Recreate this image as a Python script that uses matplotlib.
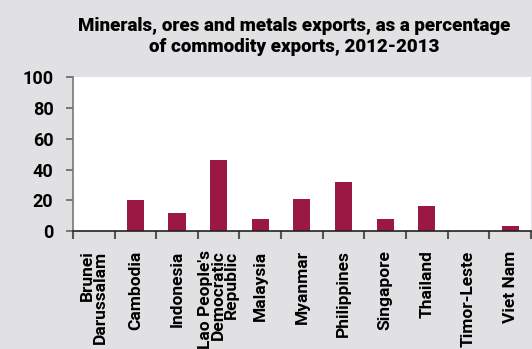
import numpy as np
import matplotlib
matplotlib.use("Agg")
import matplotlib.pyplot as plt
from matplotlib.ticker import FixedLocator

plt.rcParams['font.family'] = ['Roboto', 'Liberation Sans', 'DejaVu Sans']

"""
Data
"""
countries = ["Brunei\nDarussalam", "Cambodia", "Indonesia",
             "Lao People's\nDemocratic\nRepublic", "Malaysia", "Myanmar",
             "Philippines", "Singapore", "Thailand", "Timor-Leste", "Viet Nam"]
share = [0, 20, 12, 46, 8, 21, 32, 8, 16, 0, 3]
yticks = [0, 20, 40, 60, 80, 100]

"""
Plot
"""
bg = "#e1e1e3"
fig = plt.figure(figsize=(5.32, 3.49), dpi=100, facecolor=bg)
ax = fig.add_axes([0.137, 0.338, 0.861, 0.440])

x = np.arange(len(countries))
ax.bar(x, share, width=0.41, color="#9b1844")

ax.set_xlim(-0.5, len(countries) - 0.5)
ax.set_ylim(0, 100)
ax.set_yticks(yticks)
ax.tick_params(axis="y", length=5, width=1.2, color="#666666", labelsize=13, pad=9)
for t in ax.get_yticklabels():
    t.set_fontweight("bold")

ax.set_xticks(x)
ax.set_xticklabels(countries, rotation=90, va="top", ha="center",
                   multialignment="right", linespacing=0.85, fontweight="bold")
ax.tick_params(axis="x", which="major", length=0, labelsize=12.5, pad=14)
ax.xaxis.set_minor_locator(FixedLocator(np.arange(-0.5, len(countries), 1.0)))
ax.tick_params(axis="x", which="minor", length=6, width=1.5, color="#555555",
               direction="out")

for s in ["top", "right"]:
    ax.spines[s].set_visible(False)
ax.spines["left"].set_color("#777777")
ax.spines["left"].set_linewidth(1.2)
ax.spines["bottom"].set_color("#222222")
ax.spines["bottom"].set_linewidth(1.2)

fig.text(0.553, 0.895, "Minerals, ores and metals exports, as a percentage\nof commodity exports, 2012-2013",
         ha="center", va="center", fontsize=13.5, fontweight="black", linespacing=1.2)

fig.savefig("out.png", dpi=100, facecolor=bg)
